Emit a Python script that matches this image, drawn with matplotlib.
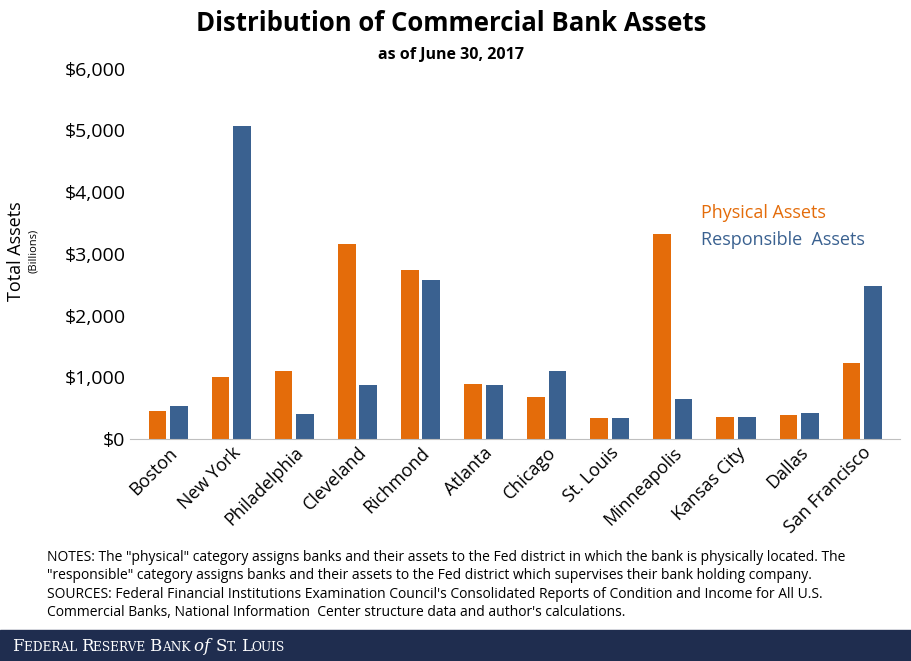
import matplotlib
matplotlib.use("Agg")
import matplotlib.pyplot as plt
import numpy as np

districts = ["Boston","New York","Philadelphia","Cleveland","Richmond","Atlanta",
             "Chicago","St. Louis","Minneapolis","Kansas City","Dallas","San Francisco"]
physical = [454,1005,1100,3160,2740,890,680,340,3325,357,390,1230]
responsible = [535,5075,405,875,2580,875,1100,340,650,357,420,2480]
yticks = [0,1000,2000,3000,4000,5000,6000]

plt.rcParams["font.family"] = "Open Sans"
fig = plt.figure(figsize=(9.11,6.61), dpi=100)
ax = fig.add_axes([0.143,0.336,0.845,0.56])
x = np.arange(len(districts))
w = 0.28
c1, c2 = "#E46C0A", "#3A6190"
ax.bar(x-0.17, physical, w, color=c1)
ax.bar(x+0.17, responsible, w, color=c2)
ax.set_ylim(0,6000)
ax.set_xlim(-0.6, len(districts)-0.4)
ax.set_yticks(yticks)
ax.set_yticklabels([f"${v:,}" for v in yticks], fontsize=14)
ax.set_xticks(x)
ax.set_xticklabels(districts, rotation=45, ha="right", rotation_mode="anchor", fontsize=13)
ax.tick_params(length=0)
for s in ["top","right","left"]:
    ax.spines[s].set_visible(False)
ax.spines["bottom"].set_color("#BFBFBF")
ax.text(8.45, 3580, "Physical Assets", color=c1, fontsize=13)
ax.text(8.45, 3150, "Responsible  Assets", color=c2, fontsize=13)

fig.text(0.495, 0.965, "Distribution of Commercial Bank Assets", ha="center", va="center",
         fontsize=18.5, fontweight="bold")
fig.text(0.495, 0.917, "as of June 30, 2017", ha="center", va="center", fontsize=11.5, fontweight="bold")
fig.text(0.018, 0.62, "Total Assets", rotation=90, ha="center", va="center", fontsize=13)
fig.text(0.037, 0.62, "(Billions)", rotation=90, ha="center", va="center", fontsize=8)

notes = ("NOTES: The \"physical\" category assigns banks and their assets to the Fed district in which the bank is physically located. The\n"
         "\"responsible\" category assigns banks and their assets to the Fed district which supervises their bank holding company.\n"
         "SOURCES: Federal Financial Institutions Examination Council's Consolidated Reports of Condition and Income for All U.S.\n"
         "Commercial Banks, National Information  Center structure data and author's calculations.")
fig.text(0.052, 0.168, notes, ha="left", va="top", fontsize=10, linespacing=1.3)

fig.patches.append(plt.Rectangle((0,0),1,0.047, transform=fig.transFigure, color="#1F2D4F"))
parts = [("F",12),("EDERAL ",8.7),("R",12),("ESERVE ",8.7),("B",12),("ANK ",8.7),
         ("of ",12),("S",12),("T. ",8.7),("L",12),("OUIS",8.7)]
fig.canvas.draw()
r = fig.canvas.get_renderer()
xp = 12
for t, fs in parts:
    style = "italic" if t.startswith("of") else "normal"
    tx = fig.text(xp/911, 10/661, t, color="white", fontsize=fs, family="DejaVu Serif",
                  va="baseline", style=style)
    bb = tx.get_window_extent(renderer=r)
    xp += bb.width
fig.savefig("out.png", dpi=100)
